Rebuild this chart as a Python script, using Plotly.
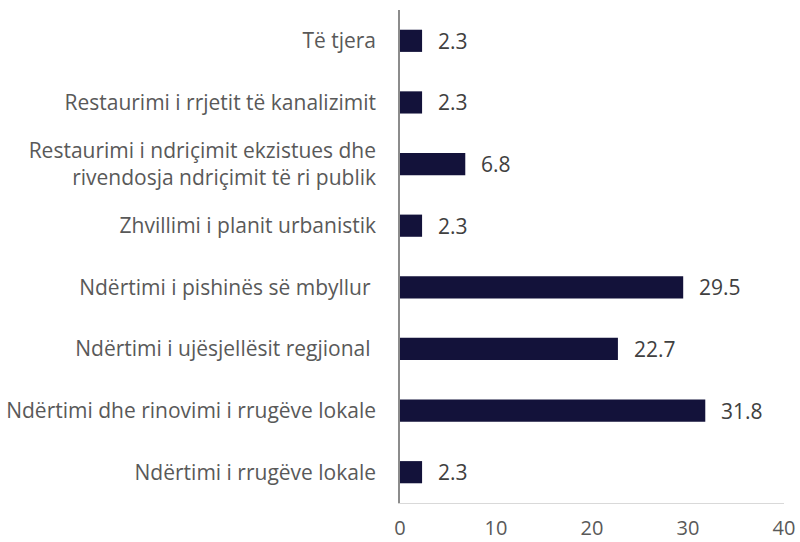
import plotly.graph_objects as go

categories = [
    "Ndërtimi i rrugëve lokale",
    "Ndërtimi dhe rinovimi i rrugëve lokale",
    "Ndërtimi i ujësjellësit regjional ",
    "Ndërtimi i pishinës së mbyllur ",
    "Zhvillimi i planit urbanistik",
    "Restaurimi i ndriçimit ekzistues dhe<br>rivendosja ndriçimit të ri publik",
    "Restaurimi i rrjetit të kanalizimit",
    "Të tjera",
]
values = [2.3, 31.8, 22.7, 29.5, 2.3, 6.8, 2.3, 2.3]
x_ticks = [0, 10, 20, 30, 40]

FONT = "Open Sans"
fig = go.Figure(go.Bar(
    x=values, y=categories, orientation="h",
    marker=dict(color="#13123a", line=dict(width=0)),
    width=0.36, hoverinfo="skip",
))
for v, c in zip(values, categories):
    fig.add_annotation(x=v, y=c, text=f"{v:.1f}", showarrow=False,
                       xanchor="left", xshift=14,
                       font=dict(family=FONT, size=21, color="#404040"))

fig.update_layout(
    width=800, height=542,
    margin=dict(l=400, r=16, t=10, b=39, autoexpand=False),
    paper_bgcolor="white", plot_bgcolor="white",
    showlegend=False,
    font=dict(family=FONT, size=21, color="#595959"),
    xaxis=dict(range=[0, 40], tickvals=x_ticks, showgrid=False, zeroline=False,
               showline=True, linecolor="#d9d9d9", linewidth=1,
               ticks="", ticklabelstandoff=7, automargin=False,
               tickfont=dict(family=FONT, size=20, color="#595959")),
    yaxis=dict(showgrid=False, zeroline=False, showline=True,
               linecolor="#8c8c8c", linewidth=1.5, ticks="", automargin=False,
               ticklabelstandoff=18, categoryorder="array", categoryarray=categories,
               tickfont=dict(family=FONT, size=21, color="#595959")),
)
fig.write_html("out.html", config={"displayModeBar": False},
               post_script="document.body.style.margin='0';")
